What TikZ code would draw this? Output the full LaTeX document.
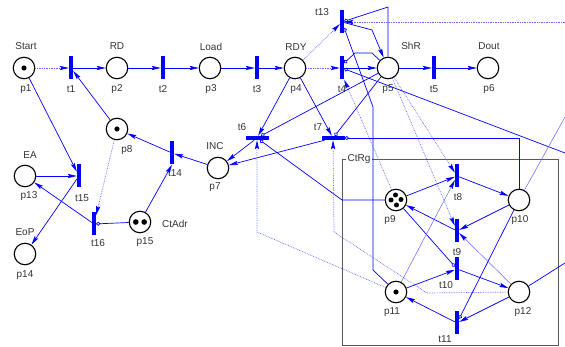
\documentclass[tikz,border=0pt]{standalone}
\usepackage{fontspec}
\setmainfont{Liberation Sans}
\usetikzlibrary{arrows.meta}
\definecolor{tb}{RGB}{0,0,255}
\definecolor{lb}{RGB}{100,100,255}
\begin{document}
\begin{tikzpicture}[x=1pt,y=-1pt,
 place/.style={circle,draw=black,line width=1.1pt,minimum size=21.5pt,inner sep=0pt},
 trv/.style={fill=tb,minimum width=4pt,minimum height=23pt,inner sep=0pt},
 trh/.style={fill=tb,minimum width=23pt,minimum height=4pt,inner sep=0pt},
 lab/.style={font=\fontsize{10}{12}\selectfont,text=black!80,inner sep=0pt},
 arc/.style={draw=tb,line width=0.7pt,-{Stealth[length=9pt,width=4.2pt,inset=1.5pt]}},
 dotarc/.style={draw=lb,line width=0.7pt,densely dotted,-{Stealth[length=9pt,width=4.2pt,inset=1.5pt,color=tb]}},
 dotline/.style={draw=lb,line width=0.6pt,densely dotted},
 thinarc/.style={draw=lb,line width=0.5pt,-{Stealth[length=9pt,width=4.2pt,inset=1.5pt,color=tb]}},
 thinline/.style={draw=lb,line width=0.5pt},
 inh/.style={draw=tb,line width=0.7pt,-{Circle[open,length=4pt,width=4pt]}},
 tok/.style={fill=black}
]
\useasboundingbox (0,0) rectangle (565,347);
% CtRg box
\draw[black!65,line width=0.9pt] (342,159) rectangle (558,345);
\node[lab,fill=white,inner xsep=1.5pt,anchor=west] (ctrg) at (346,159) {CtRg};

% places
\node[place] (p1) at (24,68) {};
\node[place] (p2) at (117,68) {};
\node[place] (p3) at (210,68) {};
\node[place] (p4) at (295,68) {};
\node[place] (p5) at (388,68) {};
\node[place] (p6) at (488,68) {};
\node[place] (p8) at (117,129) {};
\node[place] (p7) at (218,168) {};
\node[place] (p13) at (25,176) {};
\node[place] (p14) at (25,254) {};
\node[place] (p15) at (140,222) {};
\node[place] (p9) at (396,200) {};
\node[place] (p10) at (519,200) {};
\node[place] (p11) at (396,292) {};
\node[place] (p12) at (519,292) {};

% transitions
\node[trv] (t1) at (71,68) {};
\node[trv] (t2) at (163,68) {};
\node[trv] (t3) at (257,68) {};
\node[trv] (t4) at (342,68) {};
\node[trv] (t13) at (342,22) {};
\node[trv] (t5) at (434,68) {};
\node[trv] (t14) at (172,153) {};
\node[trv] (t15) at (79,176) {};
\node[trv] (t16) at (94,224) {};
\node[trh] (t6) at (257,138) {};
\node[trh] (t7) at (333,138) {};
\node[trv] (t8) at (457,176) {};
\node[trv] (t9) at (457,231) {};
\node[trv] (t10) at (457,269) {};
\node[trv] (t11) at (457,323) {};

% tokens
\fill[tok] (p1) circle (2.6pt);
\fill[tok] (p8) circle (2.6pt);
\fill[tok] (p11) circle (2.6pt);
\fill[tok] ([xshift=-4.2pt]p15.center) circle (2.8pt);
\fill[tok] ([xshift=4.2pt]p15.center) circle (2.8pt);
\fill[tok] ([xshift=-0.5pt,yshift=5pt]p9.center) circle (2.5pt);
\fill[tok] ([xshift=-5pt,yshift=0pt]p9.center) circle (2.5pt);
\fill[tok] ([xshift=5pt,yshift=0.5pt]p9.center) circle (2.5pt);
\fill[tok] ([xshift=0.5pt,yshift=-5pt]p9.center) circle (2.5pt);

% labels
\node[lab] (lStart) at (26,46) {Start};
\node[lab] (lp1) at (26,89) {p1};
\node[lab] (lt1) at (71,89) {t1};
\node[lab] (lRD) at (117,46) {RD};
\node[lab] (lp2) at (117,89) {p2};
\node[lab] (lt2) at (163,89) {t2};
\node[lab] (lLoad) at (211,47) {Load};
\node[lab] (lp3) at (211,89) {p3};
\node[lab] (lt3) at (257,89) {t3};
\node[lab] (lRDY) at (296,47) {RDY};
\node[lab] (lp4) at (296,89) {p4};
\node[lab] (lt13) at (322,12) {t13};
\node[lab] (lt4) at (342,89) {t4};
\node[lab] (lShR) at (411,46) {ShR};
\node[lab] (lp5) at (388,89) {p5};
\node[lab] (lt5) at (434,89) {t5};
\node[lab] (lDout) at (489,46) {Dout};
\node[lab] (lp6) at (489,89) {p6};
\node[lab] (lp8) at (127,150) {p8};
\node[lab] (lEA) at (30,155) {EA};
\node[lab] (lp13) at (29,196) {p13};
\node[lab] (lt15) at (82,198) {t15};
\node[lab] (lEoP) at (25,232) {EoP};
\node[lab] (lp14) at (25,275) {p14};
\node[lab] (lt16) at (98,243) {t16};
\node[lab] (lCtAdr) at (175,224) {CtAdr};
\node[lab] (lp15) at (145,242) {p15};
\node[lab] (lt14) at (175,173) {t14};
\node[lab] (lINC) at (215,146) {INC};
\node[lab] (lp7) at (215,187) {p7};
\node[lab] (lt6) at (242,127) {t6};
\node[lab] (lt7) at (318,127) {t7};
\node[lab] (lp9) at (390,220) {p9};
\node[lab] (lt8) at (458,197) {t8};
\node[lab] (lp10) at (520,220) {p10};
\node[lab] (lt9) at (457,252) {t9};
\node[lab] (lt10) at (446,285) {t10};
\node[lab] (lp11) at (392,312) {p11};
\node[lab] (lp12) at (523,312) {p12};
\node[lab] (lt11) at (445,339) {t11};

% helper coordinates
\coordinate (c13a) at (372,30);
\coordinate (c13b) at (388,7);
\coordinate (c13c) at (373,107);
\coordinate (c13d) at (373,270);
\coordinate (e13) at (565,22);
\coordinate (c4a) at (372,53);
\coordinate (c4b) at (355,53);
\coordinate (e4) at (565,153);
\coordinate (c6a) at (342,200);
\coordinate (c6b) at (257,232);
\coordinate (c7a) at (519,138);
\coordinate (c7b) at (427,293);
\coordinate (c7c) at (334,232);
\coordinate (e10) at (565,117);
\coordinate (e12) at (565,263);

% main row
\draw[dotarc] (p1) -- (t1);
\draw[arc] (t1) -- (p2);
\draw[arc] (p2) -- (t2);
\draw[arc] (t2) -- (p3);
\draw[arc] (p3) -- (t3);
\draw[arc] (t3) -- (p4);
\draw[dotarc] (p4) -- (t4);
\draw[arc] (t4) -- (p5);
\draw[arc] (p5) -- (t5);
\draw[arc] (t5) -- (p6);
\draw[dotarc] (p4) -- (t13);

% left part
\draw[arc] (p8) -- (t1);
\draw[arc] (p1) -- (t15);
\draw[arc] (p13) -- (t15);
\draw[arc] (t15) -- (p14);
\draw[arc] (t16) -- (p13);
\draw[dotarc] (p8) -- (t16);
\draw[inh] (p15) -- (t16);
\draw[arc] (p15) -- (t14.south);
\draw[arc] (t14) -- (p8);
\draw[arc] (p7) -- (t14);
\draw[arc] (t6) -- (p7);
\draw[arc] (t7) -- (p7);
\draw[arc] (p4) -- (t6);
\draw[arc] (p4) -- (t7);

% t13
\draw[arc] (t13) -- (c13a) -- (p5);
\draw[inh] (p5) -- (c13b) -- (t13);
\draw[inh] (p11) -- (c13d) -- (c13c) -- (t13);
\draw[dotarc] (e13) -- (t13);

% t4
\draw[inh] (p5) -- (c4a) -- (c4b) -- ([yshift=5pt]t4.east);
\draw[inh] (e4) -- (t4);
\draw[dotarc] (p9) -- (t4.south east);

% t6, t7
\draw[inh] (p5) -- (t6);
\draw[inh] (p5) -- (t7);
\draw[inh] (p9) -- (c6a) -- (t6);
\draw[inh] (p10) -- (c7a) -- (t7);
\draw[dotarc] (p11) -- (c6b) -- (t6);
\draw[dotarc] (p12) -- (c7b) -- (c7c) -- (t7);

% CtRg
\draw[arc] (p9) -- (t8);
\draw[arc] (t8) -- (p10);
\draw[arc] (p10) -- (t9);
\draw[arc] (t9) -- (p9);
\draw[arc] (p11) -- (t10);
\draw[arc] (t10) -- (p12);
\draw[arc] (p12) -- (t11);
\draw[arc] (t11) -- (p11);
\draw[inh] (p9) -- (t10);
\draw[inh] (p10) -- (t11);
\draw[thinarc] (p11) -- (t8);
\draw[thinarc] (p12) -- (t9);
\draw[dotarc] (p5) -- (t8);
\draw[dotarc] (p5) -- (t9);
\draw[thinline] (p10) -- (e10);
\draw[arc,-] (p12) -- (e12);
\end{tikzpicture}
\end{document}
